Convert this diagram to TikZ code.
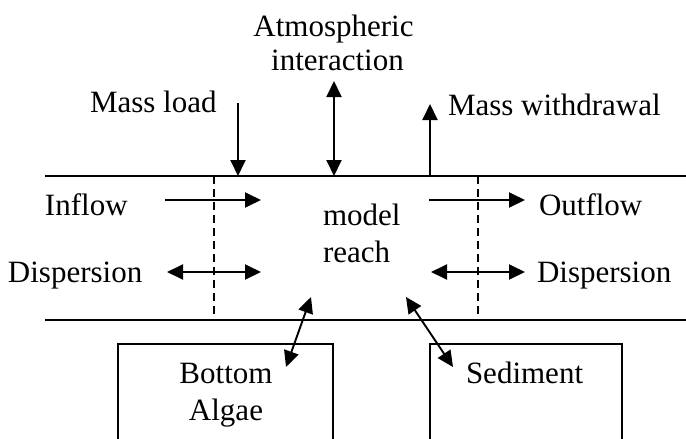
\documentclass[tikz,border=0pt]{standalone}
\usepackage{fontspec}
\setmainfont{Liberation Serif}
\usetikzlibrary{arrows.meta}
\tikzset{
  lbl/.style={inner sep=0pt, outer sep=0pt, font=\fontsize{31}{34}\selectfont},
  flow/.style={line width=1.9pt, -{Triangle[length=16pt,width=15pt]}},
  flowboth/.style={line width=1.9pt, {Triangle[length=16pt,width=15pt]}-{Triangle[length=16pt,width=15pt]}},
  bank/.style={line width=2pt},
  sect/.style={line width=1.6pt, dash pattern=on 8pt off 5pt},
  store/.style={line width=2pt}
}
\begin{document}
\begin{tikzpicture}[x=1pt,y=-1pt]
\useasboundingbox (0,0) rectangle (686,439);
% banks
\coordinate (tl) at (45,176); \coordinate (tr) at (686,176);
\coordinate (bl) at (45,320); \coordinate (br) at (686,320);
\draw[bank] (tl) -- (tr);
\draw[bank] (bl) -- (br);
% section boundaries
\coordinate (d1t) at (214,176); \coordinate (d1b) at (214,320);
\coordinate (d2t) at (478,176); \coordinate (d2b) at (478,320);
\draw[sect] (d1t) -- (d1b);
\draw[sect] (d2t) -- (d2b);
% labels
\node[lbl, anchor=base] (atm1) at (333.5,36) {Atmospheric};
\node[lbl, anchor=base] (atm2) at (337.5,70) {interaction};
\node[lbl, anchor=base west] (mload) at (90,112) {Mass load};
\node[lbl, anchor=base west] (mwith) at (448,115) {Mass withdrawal};
\node[lbl, anchor=base west] (inflow) at (45,215) {Inflow};
\node[lbl, anchor=base west] (outflow) at (539,215) {Outflow};
\node[lbl, anchor=base west] (dispL) at (8,282) {Dispersion};
\node[lbl, anchor=base west] (dispR) at (537,282) {Dispersion};
\node[lbl, anchor=base west] (model) at (323,225) {model};
\node[lbl, anchor=base west] (reach) at (323,262) {reach};
\node[lbl, anchor=base] (bottom) at (226,383) {Bottom};
\node[lbl, anchor=base] (algae) at (226,420) {Algae};
\node[lbl, anchor=base west] (sed) at (466,383) {Sediment};
% storage boxes (open at the bottom)
\draw[store] (118,441) -- (118,344) -- (333,344) -- (333,441);
\draw[store] (430,441) -- (430,344) -- (622,344) -- (622,441);
% arrow end points
\coordinate (ml1) at (238,103); \coordinate (ml2) at (238,176);
\coordinate (at1) at (334,81);  \coordinate (at2) at (334,176);
\coordinate (mw1) at (430,176); \coordinate (mw2) at (430,104);
\coordinate (in1) at (165,200); \coordinate (in2) at (261,200);
\coordinate (dl1) at (167,272); \coordinate (dl2) at (261,272);
\coordinate (of1) at (429,200); \coordinate (of2) at (525,200);
\coordinate (dr1) at (431,272); \coordinate (dr2) at (525,272);
\coordinate (ba1) at (311,297); \coordinate (ba2) at (286,367);
\coordinate (se1) at (406,297); \coordinate (se2) at (453,367);
% arrows
\draw[flow] (ml1) -- (ml2);
\draw[flowboth] (at1) -- (at2);
\draw[flow] (mw1) -- (mw2);
\draw[flow] (in1) -- (in2);
\draw[flowboth] (dl1) -- (dl2);
\draw[flow] (of1) -- (of2);
\draw[flowboth] (dr1) -- (dr2);
\draw[flowboth] (ba1) -- (ba2);
\draw[flowboth] (se1) -- (se2);
\end{tikzpicture}
\end{document}
